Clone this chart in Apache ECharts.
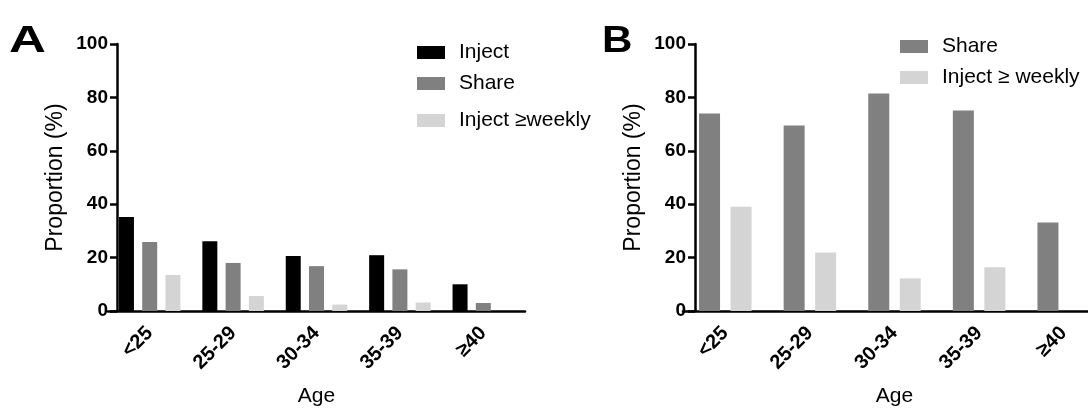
<!DOCTYPE html>
<html><head><meta charset="utf-8">
<script src="https://cdn.jsdelivr.net/npm/echarts@6/dist/echarts.min.js"></script>
<style>html,body{margin:0;padding:0;background:#fff}#c{width:1088px;height:408px}</style>
</head><body><div id="c"></div>
<script>
// ---- data ----
const ageCategories = ['<25', '25-29', '30-34', '35-39', '≥40'];
const yTicks = [0, 20, 40, 60, 80, 100];
const injectA = [35.2, 26.1, 20.6, 20.9, 10.0];
const shareA = [25.8, 18.0, 16.8, 15.6, 3.0];
const weeklyA = [13.5, 5.6, 2.4, 3.2, 0];
const shareB = [74.0, 69.5, 81.5, 75.1, 33.1];
const weeklyB = [39.0, 21.9, 12.2, 16.4, 0];
const panelLabels = ['A', 'B'];
const seriesNamesA = ['Inject', 'Share', 'Inject ≥weekly'];
const seriesNamesB = ['Share', 'Inject ≥ weekly'];
const axisTitleY = 'Proportion (%)';
const axisTitleX = 'Age';

// ---- styling ----
const FONT = '"Liberation Sans", Arial, Helvetica, sans-serif';
const C_INJECT = '#000000', C_SHARE = '#808080', C_WEEKLY = '#d4d4d4';

function xAxisCfg(gridIndex) {
  return {
    type: 'category', gridIndex, data: ageCategories, boundaryGap: true,
    axisLine: { lineStyle: { color: '#000', width: 2.5 } },
    axisTick: { alignWithLabel: true, length: 7, lineStyle: { color: '#000', width: 2.5 } },
    axisLabel: { rotate: 45, margin: 19, color: '#000', fontFamily: FONT, fontWeight: 'bold', fontSize: 20, interval: 0 },
    name: axisTitleX, nameLocation: 'middle', nameGap: 75,
    nameTextStyle: { color: '#000', fontFamily: FONT, fontSize: 21 },
    splitLine: { show: false }
  };
}
function yAxisCfg(gridIndex, offset) {
  const step = yTicks[1] - yTicks[0];
  return {
    type: 'value', gridIndex, min: yTicks[0], max: yTicks[yTicks.length - 1], interval: step,
    offset,
    axisLine: { show: true, lineStyle: { color: '#000', width: 2.5 } },
    axisTick: { show: true, length: 7, lineStyle: { color: '#000', width: 2.5 } },
    axisLabel: { margin: 9, color: '#000', fontFamily: FONT, fontWeight: 'bold', fontSize: 19 },
    splitLine: { show: false },
    name: axisTitleY, nameLocation: 'middle', nameRotate: 90, nameGap: 50,
    nameTextStyle: { color: '#000', fontFamily: FONT, fontSize: 23 }
  };
}
function legendCfg(names, left, top) {
  return {
    data: names, orient: 'vertical', left, top, icon: 'rect',
    itemWidth: 28, itemHeight: 13, itemGap: 10, selectedMode: false,
    textStyle: { color: '#000', fontFamily: FONT, fontSize: 21, lineHeight: 21, padding: [0, 0, 0, 9] }
  };
}

const chart = echarts.init(document.getElementById('c'), null, { renderer: 'canvas' });
chart.setOption({
  backgroundColor: '#fff',
  animation: false,
  grid: [
    { left: 108, top: 44, width: 417, height: 267, containLabel: false, outerBoundsMode: 'none' },
    { left: 683, top: 44, width: 423, height: 267, containLabel: false, outerBoundsMode: 'none' }
  ],
  xAxis: [xAxisCfg(0), xAxisCfg(1)],
  yAxis: [yAxisCfg(0, -9), yAxisCfg(1, -12)],
  legend: [
    legendCfg([seriesNamesA[0], seriesNamesA[1]], 412, 37),
    legendCfg([seriesNamesA[2]], 412, 105),
    legendCfg([seriesNamesB[0], seriesNamesB[1]], 895, 31)
  ],
  graphic: [
    { type: 'text', x: 9, y: 42, scaleX: 1.38, style: { text: panelLabels[0], fontSize: 37, fontWeight: 'bold', fontFamily: FONT, fill: '#000', verticalAlign: 'middle' } },
    { type: 'text', x: 602, y: 42, scaleX: 1.14, style: { text: panelLabels[1], fontSize: 37, fontWeight: 'bold', fontFamily: FONT, fill: '#000', verticalAlign: 'middle' } }
  ],
  series: [
    { name: seriesNamesA[0], type: 'bar', xAxisIndex: 0, yAxisIndex: 0, data: injectA, barWidth: 15, barGap: '55%', itemStyle: { color: C_INJECT } },
    { name: seriesNamesA[1], type: 'bar', xAxisIndex: 0, yAxisIndex: 0, data: shareA, barWidth: 15, barGap: '55%', itemStyle: { color: C_SHARE } },
    { name: seriesNamesA[2], type: 'bar', xAxisIndex: 0, yAxisIndex: 0, data: weeklyA, barWidth: 15, barGap: '55%', itemStyle: { color: C_WEEKLY } },
    { name: seriesNamesB[0], type: 'bar', xAxisIndex: 1, yAxisIndex: 1, data: shareB, barWidth: 21, barGap: '50%', itemStyle: { color: C_SHARE } },
    { name: seriesNamesB[1], type: 'bar', xAxisIndex: 1, yAxisIndex: 1, data: weeklyB, barWidth: 21, barGap: '50%', itemStyle: { color: C_WEEKLY } }
  ]
});
</script>
</body></html>
